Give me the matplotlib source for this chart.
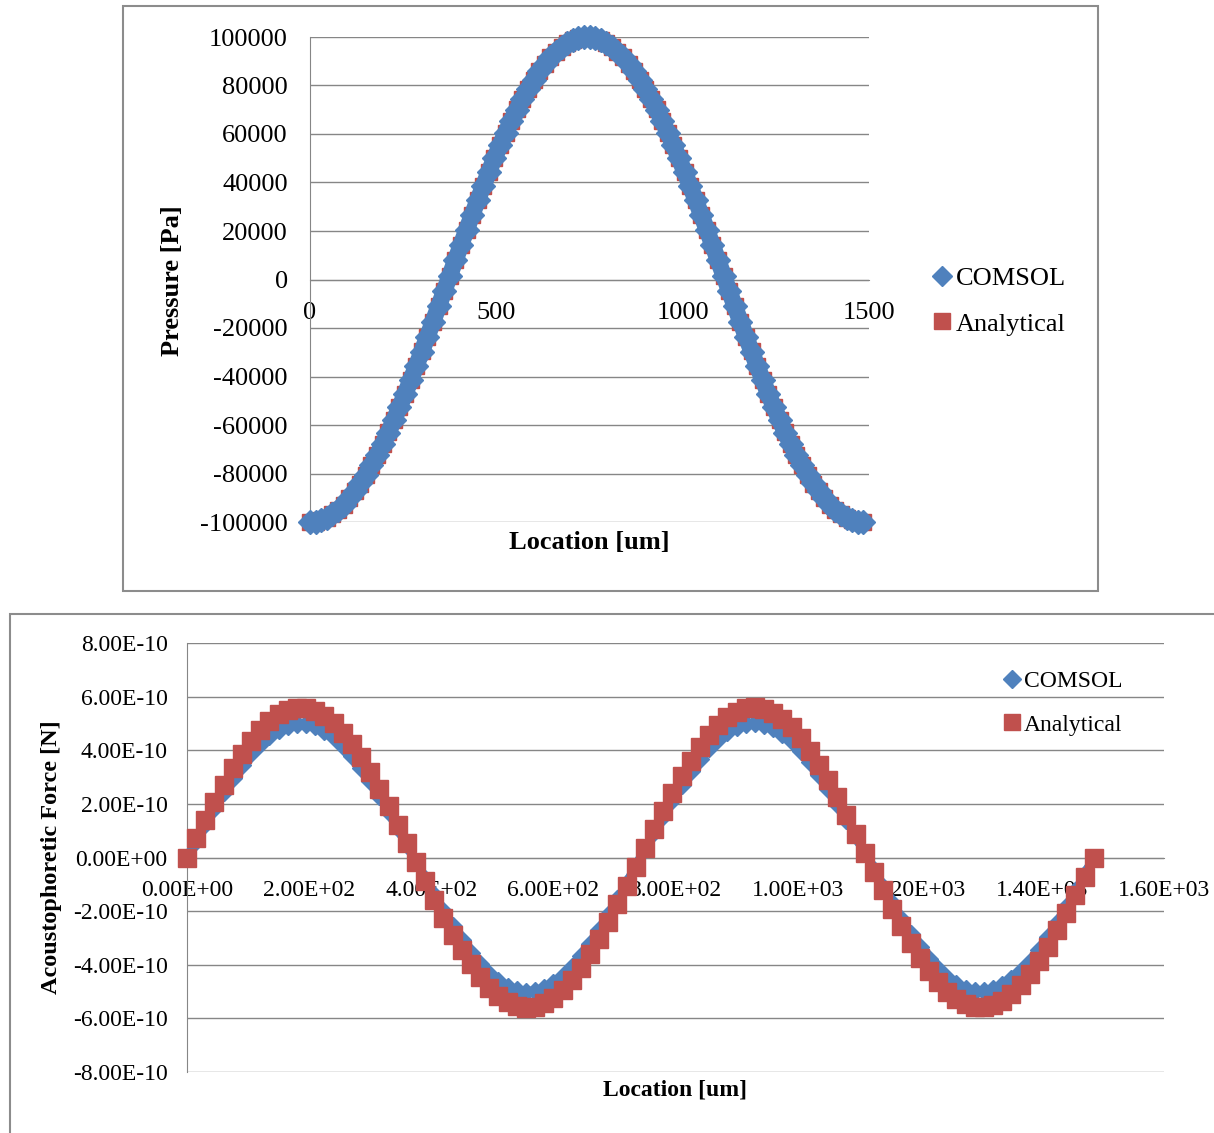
#!/usr/bin/env python3
from __future__ import annotations

import matplotlib

matplotlib.use("Agg")
import matplotlib.pyplot as plt
from matplotlib.lines import Line2D
from matplotlib.patches import Rectangle

BLUE = "#4F81BD"
RED = "#C0504D"
GRID = "#868686"
FRAME = "#8C8C8C"
W, H = 1214, 1133

# sample locations [um], shared by both charts
location_um = [
    0, 15, 30, 45, 60, 75, 90, 105, 120, 135,
    150, 165, 180, 195, 210, 225, 240, 255, 270, 285,
    300, 315, 330, 345, 360, 375, 390, 405, 420, 435,
    450, 465, 480, 495, 510, 525, 540, 555, 570, 585,
    600, 615, 630, 645, 660, 675, 690, 705, 720, 735,
    750, 765, 780, 795, 810, 825, 840, 855, 870, 885,
    900, 915, 930, 945, 960, 975, 990, 1005, 1020, 1035,
    1050, 1065, 1080, 1095, 1110, 1125, 1140, 1155, 1170, 1185,
    1200, 1215, 1230, 1245, 1260, 1275, 1290, 1305, 1320, 1335,
    1350, 1365, 1380, 1395, 1410, 1425, 1440, 1455, 1470, 1485,
]

# pressure [Pa]
pressure_comsol = [
    -100000, -99800, -99200, -98200, -96800, -95000, -92800, -90300, -87400, -84100,
    -80500, -76600, -72400, -67900, -63100, -58000, -52700, -47200, -41500, -35700,
    -29700, -23600, -17400, -11100, -4800, 1600, 7900, 14200, 20500, 26600,
    32700, 38600, 44400, 50000, 55400, 60600, 65500, 70100, 74500, 78600,
    82400, 85800, 88900, 91600, 94000, 95900, 97500, 98700, 99500, 99900,
    99900, 99500, 98700, 97500, 95900, 94000, 91600, 88900, 85800, 82400,
    78600, 74500, 70100, 65500, 60600, 55400, 50000, 44400, 38600, 32700,
    26600, 20500, 14200, 7900, 1600, -4800, -11100, -17400, -23600, -29700,
    -35700, -41500, -47200, -52700, -58000, -63100, -67900, -72400, -76600, -80500,
    -84100, -87400, -90300, -92800, -95000, -96800, -98200, -99200, -99800, -100000,
]
pressure_analytical = [
    -100000, -99800, -99200, -98190, -96800, -95010, -92840, -90290, -87380, -84130,
    -80530, -76600, -72370, -67850, -63060, -58010, -52720, -47230, -41540, -35690,
    -29690, -23580, -17370, -11080, -4760, 1590, 7930, 14230, 20480, 26650,
    32710, 38630, 44410, 50000, 55390, 60560, 65490, 70150, 74530, 78610,
    82370, 85800, 88890, 91610, 93970, 95950, 97540, 98740, 99550, 99950,
    99950, 99550, 98740, 97540, 95950, 93970, 91610, 88890, 85800, 82370,
    78610, 74530, 70150, 65490, 60560, 55390, 50000, 44410, 38630, 32710,
    26650, 20480, 14230, 7930, 1590, -4760, -11080, -17370, -23580, -29690,
    -35690, -41540, -47230, -52720, -58010, -63060, -67850, -72370, -76600, -80530,
    -84130, -87380, -90290, -92840, -95010, -96800, -98190, -99200, -99800, -100000,
]

# acoustophoretic force, in units of 1e-10 N
FORCE_UNIT = 1e-10
force_comsol = [
    0.00, 0.63, 1.26, 1.86, 2.43, 2.96, 3.45, 3.88, 4.25, 4.55,
    4.77, 4.92, 4.99, 4.98, 4.89, 4.73, 4.48, 4.16, 3.78, 3.33,
    2.84, 2.29, 1.71, 1.10, 0.48, -0.16, -0.79, -1.41, -2.00, -2.57,
    -3.09, -3.56, -3.98, -4.33, -4.61, -4.82, -4.95, -5.00, -4.97, -4.86,
    -4.67, -4.41, -4.07, -3.67, -3.21, -2.70, -2.15, -1.56, -0.95, -0.32,
    0.32, 0.95, 1.56, 2.15, 2.70, 3.21, 3.67, 4.07, 4.41, 4.67,
    4.86, 4.97, 5.00, 4.95, 4.82, 4.61, 4.33, 3.98, 3.56, 3.09,
    2.57, 2.00, 1.41, 0.79, 0.16, -0.48, -1.10, -1.71, -2.29, -2.84,
    -3.33, -3.78, -4.16, -4.48, -4.73, -4.89, -4.98, -4.99, -4.92, -4.77,
    -4.55, -4.25, -3.88, -3.45, -2.96, -2.43, -1.86, -1.26, -0.63, 0.00,
]
force_analytical = [
    0.00, 0.71, 1.41, 2.08, 2.72, 3.32, 3.86, 4.35, 4.76, 5.09,
    5.35, 5.51, 5.59, 5.58, 5.48, 5.29, 5.02, 4.66, 4.23, 3.73,
    3.18, 2.57, 1.92, 1.23, 0.53, -0.18, -0.88, -1.58, -2.25, -2.88,
    -3.46, -3.99, -4.46, -4.85, -5.17, -5.40, -5.54, -5.60, -5.57, -5.44,
    -5.23, -4.94, -4.56, -4.11, -3.60, -3.03, -2.41, -1.75, -1.06, -0.36,
    0.36, 1.06, 1.75, 2.41, 3.03, 3.60, 4.11, 4.56, 4.94, 5.23,
    5.44, 5.57, 5.60, 5.54, 5.40, 5.17, 4.85, 4.46, 3.99, 3.46,
    2.88, 2.25, 1.58, 0.88, 0.18, -0.53, -1.23, -1.92, -2.57, -3.18,
    -3.73, -4.23, -4.66, -5.02, -5.29, -5.48, -5.58, -5.59, -5.51, -5.35,
    -5.09, -4.76, -4.35, -3.86, -3.32, -2.72, -2.08, -1.41, -0.71, 0.00,
]

pressure_yticks = [-100000, -80000, -60000, -40000, -20000, 0, 20000, 40000, 60000, 80000, 100000]
pressure_xticks = [0, 500, 1000, 1500]
force_yticks = [-8.0, -6.0, -4.0, -2.0, 0.0, 2.0, 4.0, 6.0, 8.0]
force_xticks = [0, 200, 400, 600, 800, 1000, 1200, 1400, 1600]

series_names = ["COMSOL", "Analytical"]


def _px_axes(fig, left, top, right, bottom):
    return fig.add_axes([left / W, 1 - bottom / H, (right - left) / W, (bottom - top) / H])


def _style(ax, size, ypad, xpad):
    ax.set_facecolor("none")
    ax.spines["top"].set_visible(False)
    ax.spines["right"].set_visible(False)
    ax.spines["left"].set_color(GRID)
    ax.spines["bottom"].set_color(GRID)
    ax.spines["bottom"].set_position(("data", 0))
    ax.grid(axis="y", color=GRID, lw=1.0)
    ax.grid(axis="x", visible=False)
    ax.set_axisbelow(True)
    ax.tick_params(length=0, labelsize=size)
    ax.tick_params(axis="y", pad=ypad)
    ax.tick_params(axis="x", pad=xpad)


def _legend_handles(ms_d, ms_s):
    return [
        Line2D([], [], ls="none", marker="D", color=BLUE, mec=BLUE, ms=ms_d),
        Line2D([], [], ls="none", marker="s", color=RED, mec=RED, ms=ms_s),
    ]


def main() -> None:
    plt.rcParams["font.family"] = ["Liberation Serif", "DejaVu Serif"]
    fig = plt.figure(figsize=(W / 100, H / 100), dpi=100)

    # chart frames
    fig.add_artist(Rectangle((123 / W, 1 - 591 / H), 975 / W, 585 / H, transform=fig.transFigure,
                             fill=False, ec=FRAME, lw=1.5))
    fig.add_artist(Rectangle((10 / W, -0.05), 1.2, 1 - 614 / H + 0.05, transform=fig.transFigure,
                             fill=False, ec=FRAME, lw=1.5))

    # --- pressure chart
    ax1 = _px_axes(fig, 310, 37, 869, 522)
    ax1.plot(location_um, pressure_analytical, ls="none", marker="s", color=RED, mec=RED, ms=12,
             zorder=3, clip_on=False)
    ax1.plot(location_um, pressure_comsol, ls="-", lw=12, marker="D", color=BLUE, mec=BLUE, ms=12,
             solid_capstyle="butt", zorder=4, clip_on=False)
    ax1.set_xlim(0, 1500)
    ax1.set_ylim(-100000, 100000)
    ax1.set_yticks(pressure_yticks, labels=[str(v) for v in pressure_yticks])
    ax1.set_xticks(pressure_xticks, labels=[str(v) for v in pressure_xticks])
    _style(ax1, 19, 16, 16)
    fig.text(173 / W, 1 - 281 / H, "Pressure [Pa]", rotation=90, ha="center", va="center",
             fontsize=19, fontweight="bold")
    fig.text(589 / W, 1 - 543 / H, "Location [um]", ha="center", va="center", fontsize=19, fontweight="bold")
    fig.legend(_legend_handles(10, 11), series_names, loc="center left",
               bbox_to_anchor=(933 / W, 1 - 301 / H), frameon=False, fontsize=19,
               handlelength=0.7, handletextpad=0.15, labelspacing=0.85, borderaxespad=0, borderpad=0)

    # --- force chart
    ax2 = _px_axes(fig, 187, 643, 1164, 1072)
    fc = [v * FORCE_UNIT for v in force_comsol]
    fa = [v * FORCE_UNIT for v in force_analytical]
    ax2.plot(location_um, fc, ls="-", lw=6.5, marker="D", color=BLUE, mec=BLUE, ms=9.5,
             solid_capstyle="butt", zorder=3, clip_on=False)
    ax2.plot(location_um, fa, ls="none", marker="s", color=RED, mec=RED, ms=13.5, zorder=4, clip_on=False)
    ax2.set_xlim(0, 1600)
    ax2.set_ylim(-8 * FORCE_UNIT, 8 * FORCE_UNIT)
    ax2.set_yticks([v * FORCE_UNIT for v in force_yticks],
                   labels=[f"{v * FORCE_UNIT:.2E}" for v in force_yticks])
    ax2.set_xticks(force_xticks, labels=[f"{float(v):.2E}" for v in force_xticks])
    ax2.yaxis.get_offset_text().set_visible(False)
    _style(ax2, 17, 14, 16)
    fig.text(52 / W, 1 - 857 / H, "Acoustophoretic Force [N]", rotation=90, ha="center", va="center",
             fontsize=17.5, fontweight="bold")
    fig.text(675 / W, 1 - 1090 / H, "Location [um]", ha="center", va="center", fontsize=17, fontweight="bold")
    fig.legend(_legend_handles(9.5, 11), series_names, loc="center left",
               bbox_to_anchor=(1004 / W, 1 - 703 / H), frameon=False, fontsize=17,
               handlelength=0.7, handletextpad=0.15, labelspacing=0.95, borderaxespad=0, borderpad=0)

    fig.savefig("out.png", dpi=100)
    plt.close(fig)


if __name__ == "__main__":
    main()
